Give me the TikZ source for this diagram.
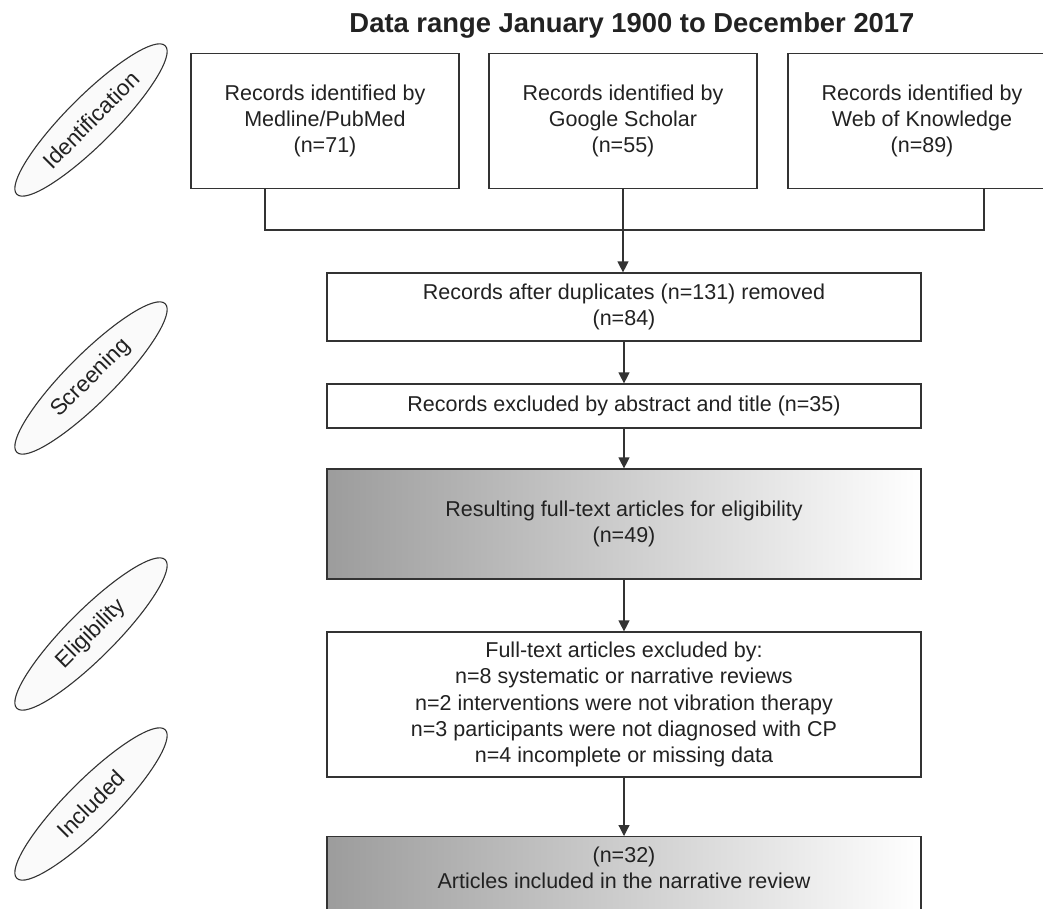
\documentclass[tikz,border=0pt]{standalone}
\usepackage{fontspec}
\setmainfont{Liberation Sans}
\usetikzlibrary{arrows.meta,shapes.geometric,calc}
\definecolor{linec}{HTML}{333333}
\definecolor{textc}{HTML}{222222}
\definecolor{ellfill}{HTML}{FAFAFA}
\definecolor{gradl}{HTML}{9C9C9C}
\begin{document}
\begin{tikzpicture}[x=1pt,y=-1pt,
  every node/.style={text=textc, font=\fontsize{21.5}{26.3}\selectfont},
  box/.style={draw=linec, line width=1.2pt, fill=white, align=center, inner sep=0pt},
  gbox/.style={draw=linec, line width=1.2pt, left color=gradl, right color=white, align=center, inner sep=0pt},
  phase/.style={draw=linec, line width=1.1pt, fill=ellfill, ellipse, rotate=45, minimum width=210pt, minimum height=48pt, inner sep=0pt, font=\fontsize{22.5}{26}\selectfont},
  conn/.style={draw=linec, line width=1.2pt},
  arr/.style={conn, -{Triangle[width=11pt,length=11pt]}},
  txt/.style={align=center, inner sep=0pt}
]
\useasboundingbox (0,0) rectangle (1043,909);
\clip (0,0) rectangle (1043,909);

\node[font=\bfseries\fontsize{27.4}{30}\selectfont, inner sep=0pt] (title) at (632,25) {Data range January 1900 to December 2017};

\node[phase] (p1) at (91,120) {Identification};
\node[phase] (p2) at (91,378) {Screening};
\node[phase] (p3) at (91,634) {Eligibility};
\node[phase] (p4) at (91,804) {Included};

\node[box, minimum width=268pt, minimum height=135pt] (b1) at (325,121) {Records identified by\\Medline/PubMed\\(n=71)};
\node[box, minimum width=268pt, minimum height=135pt] (b2) at (623,121) {Records identified by\\Google Scholar\\(n=55)};
\node[box, minimum width=268pt, minimum height=135pt] (b3) at (922,121) {Records identified by\\Web of Knowledge\\(n=89)};

\node[box, minimum width=594pt, minimum height=68pt] (b4) at (624,307) {Records after duplicates (n=131) removed\\(n=84)};
\node[box, minimum width=594pt, minimum height=44pt] (b5) at (624,406) {Records excluded by abstract and title (n=35)};
\node[gbox, minimum width=594pt, minimum height=110pt] (b6) at (624,524) {Resulting full-text articles for eligibility\\(n=49)};
\node[box, minimum width=594pt, minimum height=145pt] (b7) at (624,704.5) {Full-text articles excluded by:\\n=8 systematic or narrative reviews\\n=2 interventions were not vibration therapy\\n=3 participants were not diagnosed with CP\\n=4 incomplete or missing data};
\node[gbox, minimum width=594pt, minimum height=80pt, anchor=north] (b8) at (624,836) {};
\node[txt] (b8t) at (624,868) {(n=32)\\Articles included in the narrative review};

\coordinate (j1) at (265,230);
\coordinate (j3) at (984,230);
\draw[conn] (b1.south -| j1) -- (j1) -- (j3) -- (b3.south -| j3);
\draw[arr] (b2.south) -- (b2.south |- b4.north);
\draw[arr] (b4) -- (b5);
\draw[arr] (b5) -- (b6);
\draw[arr] (b6) -- (b7);
\draw[arr] (b7) -- (b8);
\end{tikzpicture}
\end{document}
